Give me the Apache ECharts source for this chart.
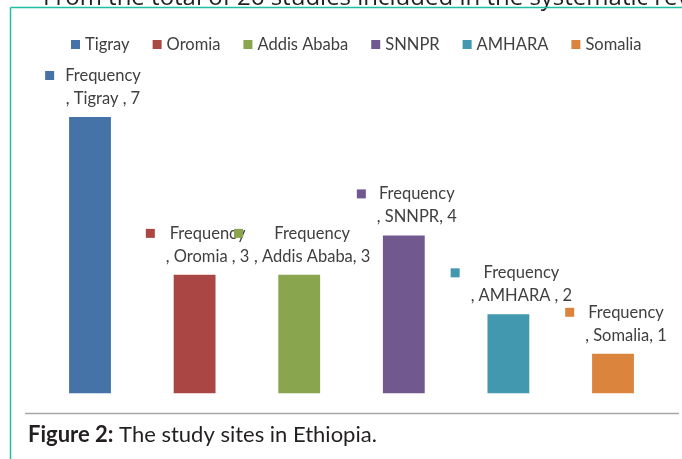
<!DOCTYPE html>
<html>
<head>
<meta charset="utf-8">
<script src="https://cdn.jsdelivr.net/npm/echarts@6/dist/echarts.min.js"></script>
<style>
  html, body { margin: 0; padding: 0; background: #fff; }
  #chart { width: 682px; height: 459px; }
</style>
</head>
<body>
<div id="chart"></div>
<script>
// study sites and how many studies came from each
var sites = ['Tigray', 'Oromia', 'Addis Ababa', 'SNNPR', 'AMHARA', 'Somalia'];
var frequency = [7, 3, 3, 4, 2, 1];
// site name as written inside the data labels
var labelNames = ['Tigray ', 'Oromia ', 'Addis Ababa', 'SNNPR', 'AMHARA ', 'Somalia'];
var colors = ['#4572A7', '#AA4643', '#89A54E', '#71588F', '#4198AF', '#DB843D'];

var FONT = 'Lato, "Open Sans", sans-serif';

var chartDom = document.getElementById('chart');
var myChart = echarts.init(chartDom, null, { renderer: 'canvas' });

// rich styles for the little colour key in each label
var rich = {
  g: { width: 11, height: 9, align: 'left' },
  sp: { width: 9, height: 9, align: 'left' },
  t: { fontSize: 16.5, lineHeight: 23, color: '#404040', fontFamily: FONT, align: 'center' }
};
colors.forEach(function (c, i) {
  rich['m' + i] = { width: 9, height: 9, backgroundColor: c, align: 'left' };
});

// one series per site so the legend lists every site
var series = sites.map(function (name, i) {
  var data = sites.map(function (s, j) { return j === i ? frequency[i] : '-'; });
  return {
    name: name,
    type: 'bar',
    stack: 'all',
    barWidth: '40%',
    data: data,
    itemStyle: { color: colors[i] },
    label: {
      show: true,
      position: 'top',
      distance: 7,
      offset: [3, 0],
      rich: rich,
      formatter: function (p) {
        return '{m' + i + '|}{g|}{t|Frequency}\n{sp|}{g|}{t|, ' + labelNames[i] + ', ' + p.value + '}';
      }
    }
  };
});

var option = {
  animation: false,
  color: colors,
  legend: {
    top: 31,
    left: 66,
    icon: 'rect',
    itemWidth: 9,
    itemHeight: 9,
    itemGap: 23,
    textStyle: { fontSize: 16.5, color: '#404040', fontFamily: FONT },
    data: sites
  },
  grid: { left: 37.7, right: 16.7, top: 117, bottom: 46 },
  xAxis: {
    type: 'category',
    data: sites,
    axisLine: { show: false },
    axisTick: { show: false },
    axisLabel: { show: false }
  },
  yAxis: {
    type: 'value',
    min: -0.5,
    max: 7,
    show: false,
    splitLine: { show: false }
  },
  series: series,
  graphic: [
    // page frame
    { type: 'line', shape: { x1: 10.5, y1: 7.5, x2: 682, y2: 7.5 }, style: { stroke: '#1fbfa2', lineWidth: 1.5 } },
    { type: 'line', shape: { x1: 10.5, y1: 7.5, x2: 10.5, y2: 459 }, style: { stroke: '#1fbfa2', lineWidth: 1.5 } },
    // plot area bottom line
    { type: 'line', shape: { x1: 25, y1: 413.5, x2: 679, y2: 413.5 }, style: { stroke: '#a6a6a6', lineWidth: 1.5 } },
    // clipped body text above the figure
    {
      type: 'text', left: 43, top: -14, z: -1,
      style: { text: 'From the total of 26 studies included in the systematic review', fontSize: 24, fontFamily: '"Open Sans", sans-serif', fill: '#231f20' }
    },
    // caption
    {
      type: 'text', left: 28, top: 424,
      style: {
        text: '{b|Figure 2:} The study sites in Ethiopia.',
        fontSize: 22, fontFamily: FONT, fill: '#231f20',
        rich: { b: { fontWeight: 'bold', fontSize: 22, fontFamily: FONT, fill: '#231f20' } }
      }
    }
  ]
};

option && myChart.setOption(option);
</script>
</body>
</html>
